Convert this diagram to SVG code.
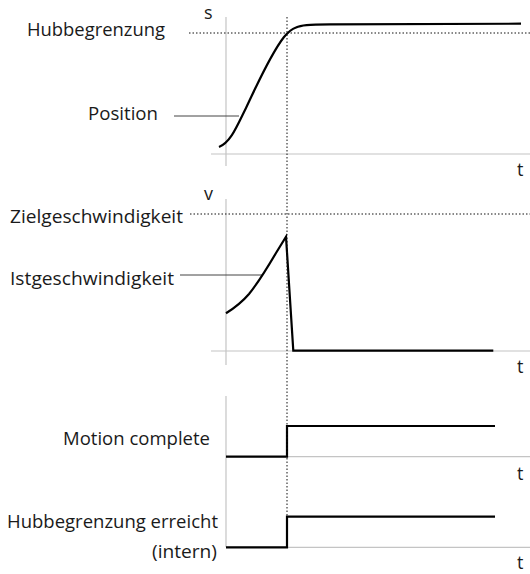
<svg xmlns="http://www.w3.org/2000/svg" width="530" height="574" viewBox="0 0 530 574">
  <style>
    text { font-family: "Open Sans", "Noto Sans", sans-serif; font-size: 19px; fill: #1a1a1a; }
    .ax { font-size: 18px; }
    .axis { stroke: #c4c4c4; stroke-width: 1.2; fill: none; }
    .lead { stroke: #444; stroke-width: 1; fill: none; }
    .dot { stroke: #111; stroke-width: 1; stroke-dasharray: 1.5 2; fill: none; }
    .sig { stroke: #000; stroke-width: 2.2; fill: none; stroke-linejoin: miter; }
  </style>

  <!-- position plot -->
  <g id="plot-position">
    <line class="axis" x1="226" y1="17" x2="226" y2="166"/>
    <line class="axis" x1="211" y1="154" x2="530" y2="154"/>
    <text class="ax" x="204" y="19">s</text>
    <text class="ax" x="517" y="176">t</text>
    <line class="dot" x1="189" y1="33" x2="530" y2="33"/>
    <text x="27" y="36" textLength="138" lengthAdjust="spacingAndGlyphs">Hubbegrenzung</text>
    <text x="88" y="120" textLength="70" lengthAdjust="spacingAndGlyphs">Position</text>
    <line class="lead" x1="174" y1="116" x2="239" y2="116"/>
    <path class="sig" d="M219,147 C231,142 237,126 246,108 C257,85 270,55 284,37 C289,31 292,29 296,27.5 C301,25 308,24.5 330,24.3 L521,23.7"/>
  </g>

  <!-- velocity plot -->
  <g id="plot-velocity">
    <line class="axis" x1="226" y1="199" x2="226" y2="365"/>
    <line class="axis" x1="211" y1="351" x2="530" y2="351"/>
    <text class="ax" x="204" y="200">v</text>
    <text class="ax" x="517" y="373">t</text>
    <line class="dot" x1="190" y1="214" x2="530" y2="214"/>
    <text x="10" y="223" textLength="173" lengthAdjust="spacingAndGlyphs">Zielgeschwindigkeit</text>
    <text x="10" y="285" textLength="164" lengthAdjust="spacingAndGlyphs">Istgeschwindigkeit</text>
    <line class="lead" x1="180" y1="275" x2="262" y2="275"/>
    <path class="sig" d="M226,313.3 C236,307 243,301 249,294 C258,283 266,270 276,253 L286,236.7 L293.3,350.7 L493.3,350.7"/>
  </g>

  <!-- motion complete signal -->
  <g id="signal-motion-complete">
    <line class="axis" x1="226" y1="396" x2="226" y2="547"/>
    <line class="axis" x1="226" y1="456.7" x2="530" y2="456.7"/>
    <text class="ax" x="517" y="480">t</text>
    <text x="63" y="445" textLength="147" lengthAdjust="spacingAndGlyphs">Motion complete</text>
    <path class="sig" d="M226,456.7 L287,456.7 L287,426 L495,426"/>
  </g>

  <!-- stroke limit reached signal -->
  <g id="signal-hubbegrenzung">
    <line class="axis" x1="226" y1="547.3" x2="530" y2="547.3"/>
    <text class="ax" x="517" y="569">t</text>
    <text x="7" y="528" textLength="211" lengthAdjust="spacingAndGlyphs">Hubbegrenzung erreicht</text>
    <text x="152" y="558" textLength="65" lengthAdjust="spacingAndGlyphs">(intern)</text>
    <path class="sig" d="M226,547.3 L287,547.3 L287,516.7 L495,516.7"/>
  </g>

  <!-- shared time marker -->
  <g id="connectors">
    <line class="dot" x1="287" y1="17" x2="287" y2="517"/>
  </g>
</svg>
